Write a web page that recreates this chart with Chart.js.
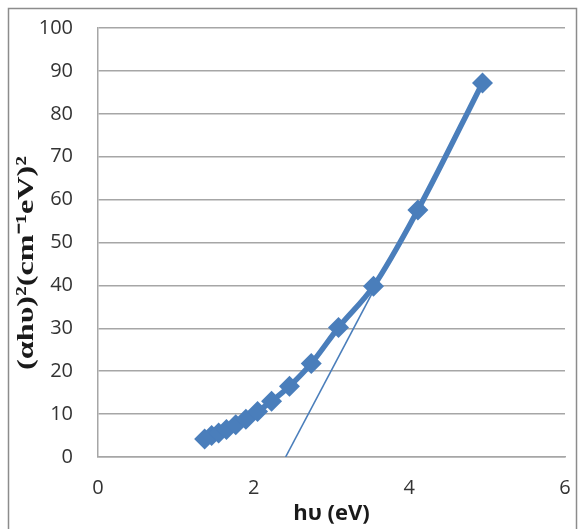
<!DOCTYPE html>
<html>
<head>
<meta charset="utf-8">
<script src="https://cdn.jsdelivr.net/npm/chart.js@4/dist/chart.umd.min.js"></script>
<style>
  html, body { margin: 0; padding: 0; background: #fff; }
  #wrap { width: 581px; height: 529px; }
</style>
</head>
<body>
<div id="wrap"><canvas id="tauc"></canvas></div>
<script>
// photon energy (eV) and (αhυ)² values
const energy = [1.37, 1.46, 1.55, 1.65, 1.77, 1.90, 2.05, 2.23, 2.46, 2.74, 3.09, 3.54, 4.11, 4.94];
const alphaSq = [4.2, 5.0, 5.6, 6.4, 7.5, 8.8, 10.6, 13.0, 16.5, 21.8, 30.2, 39.8, 57.6, 87.2];

// linear extrapolation to the energy axis
const fitX = [2.41, 3.56];
const fitY = [0, 39.5];

const xTicks = [0, 2, 4, 6];
const yTicks = [0, 10, 20, 30, 40, 50, 60, 70, 80, 90, 100];

const blue = '#4a7ebb';
const yTitle = '(αhυ)²(cm⁻¹eV)²';

// outer frame and rotated y title
const framePlugin = {
    id: 'frame',
    beforeDraw(chart) {
        const ctx = chart.ctx;
        ctx.save();
        ctx.fillStyle = '#fff';
        ctx.fillRect(0, 0, chart.width, chart.height);
        ctx.strokeStyle = '#8c8c8c';
        ctx.lineWidth = 1.5;
        ctx.strokeRect(8.5, 8.5, 568, 540);
        ctx.restore();
    },
    afterDraw(chart) {
        const ctx = chart.ctx;
        ctx.save();
        ctx.font = 'bold 24px "Liberation Serif", serif';
        const w = ctx.measureText(yTitle).width;
        ctx.translate(27, 263);
        ctx.rotate(-Math.PI / 2);
        ctx.scale(214 / w, 1);
        ctx.fillStyle = '#1a1a1a';
        ctx.textAlign = 'center';
        ctx.textBaseline = 'middle';
        ctx.fillText(yTitle, 0, 0);
        ctx.restore();
    }
};

new Chart(document.getElementById('tauc'), {
    type: 'line',
    data: {
        datasets: [{
            data: energy.map((x, i) => ({ x: x, y: alphaSq[i] })),
            borderColor: blue,
            backgroundColor: blue,
            borderWidth: 5.5,
            cubicInterpolationMode: 'monotone',
            pointStyle: 'rectRot',
            pointRadius: 10.5,
            pointBorderWidth: 0,
            pointBackgroundColor: blue,
            order: 1
        }, {
            data: fitX.map((x, i) => ({ x: x, y: fitY[i] })),
            borderColor: blue,
            borderWidth: 1.6,
            pointRadius: 0,
            tension: 0,
            order: 2
        }]
    },
    plugins: [framePlugin],
    options: {
        responsive: true,
        maintainAspectRatio: false,
        animation: false,
        layout: { padding: { left: 8, top: 28, right: 16, bottom: 0 } },
        plugins: {
            legend: { display: false },
            tooltip: { enabled: false }
        },
        scales: {
            x: {
                type: 'linear',
                min: 0,
                max: 6,
                afterBuildTicks(scale) { scale.ticks = xTicks.map(v => ({ value: v })); },
                afterFit(scale) {
                    scale.height = 72;
                    scale.paddingLeft = 0;
                    scale.paddingRight = 0;
                },
                grid: { display: false, drawTicks: false },
                border: { display: true, color: '#a6a6a6', width: 1.5 },
                ticks: {
                    padding: 19,
                    color: '#333',
                    font: { family: '"Open Sans", sans-serif', size: 20 }
                },
                title: {
                    display: true,
                    text: 'hυ (eV)',
                    color: '#1a1a1a',
                    padding: { top: 0, bottom: 2 },
                    font: { family: '"Open Sans", sans-serif', size: 22, weight: 'bold' }
                }
            },
            y: {
                min: 0,
                max: 100,
                afterBuildTicks(scale) { scale.ticks = yTicks.map(v => ({ value: v })); },
                afterFit(scale) {
                    scale.width = 90;
                    scale.paddingTop = 0;
                    scale.paddingBottom = 0;
                },
                grid: { color: '#a6a6a6', lineWidth: 1.5, drawTicks: false },
                border: { display: true, color: '#a6a6a6', width: 1.5 },
                ticks: {
                    padding: 25,
                    color: '#333',
                    font: { family: '"Open Sans", sans-serif', size: 20 }
                }
            }
        }
    }
});
</script>
</body>
</html>
